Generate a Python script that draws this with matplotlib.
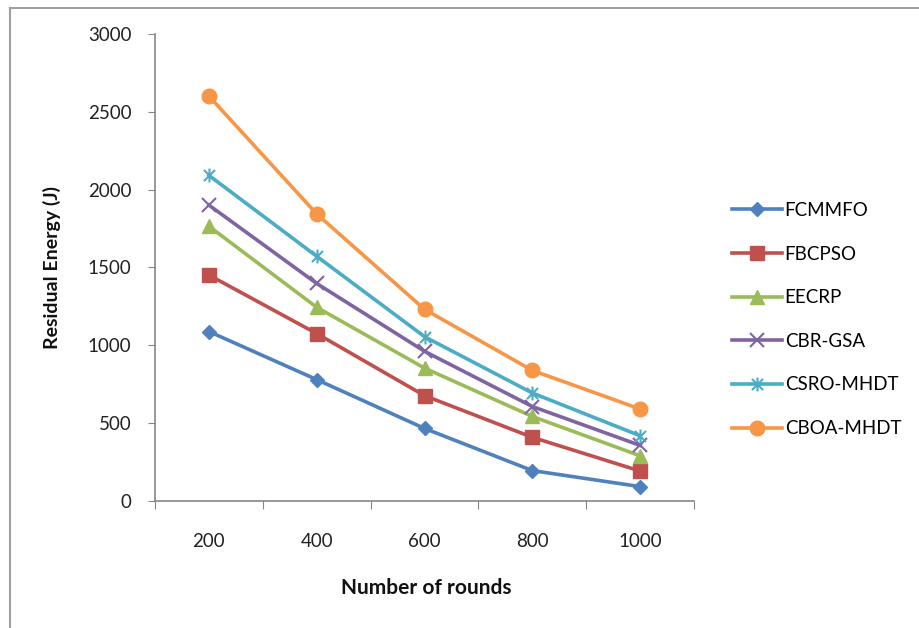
import matplotlib
matplotlib.use("Agg")
import matplotlib.pyplot as plt
from matplotlib.path import Path
from matplotlib.lines import Line2D

rounds = ["200", "400", "600", "800", "1000"]
fcmmfo = [1087, 778, 464, 193, 90]
fbcpso = [1450, 1074, 675, 407, 190]
eecrp = [1764, 1243, 852, 541, 288]
cbr_gsa = [1900, 1396, 960, 605, 355]
csro_mhdt = [2091, 1571, 1054, 692, 417]
cboa_mhdt = [2601, 1843, 1230, 837, 589]
series_names = ["FCMMFO", "FBCPSO", "EECRP", "CBR-GSA", "CSRO-MHDT", "CBOA-MHDT"]
y_ticks = [0, 500, 1000, 1500, 2000, 2500, 3000]

plt.rcParams['font.family'] = ['Lato', 'DejaVu Sans']

star = Path([(-1, -1), (1, 1), (-1, 1), (1, -1), (0, -1.25), (0, 1.25)],
            [Path.MOVETO, Path.LINETO, Path.MOVETO, Path.LINETO, Path.MOVETO, Path.LINETO])

styles = [
    dict(color="#4F81BD", marker="D", ms=7.5),
    dict(color="#C0504D", marker="s", ms=9.5),
    dict(color="#9BBB59", marker="^", ms=9.5),
    dict(color="#8064A2", marker="x", ms=9.5, mew=1.5),
    dict(color="#4BACC6", marker=star, ms=10, mew=1.5),
    dict(color="#F79646", marker="o", ms=10.5),
]

fig = plt.figure(figsize=(9.19, 6.28), dpi=100)
# chart-area border (left and top visible; right/bottom run off the image)
fig.add_artist(Line2D([10 / 919, 10 / 919], [0, 1 - 8 / 628], transform=fig.transFigure,
                      color="#A0A0A0", linewidth=1.5))
fig.add_artist(Line2D([10 / 919, 1], [1 - 8 / 628, 1 - 8 / 628], transform=fig.transFigure,
                      color="#A0A0A0", linewidth=1.5))

ax = fig.add_axes([155 / 919, 1 - 500.6 / 628, (694 - 155) / 919, (500.6 - 34) / 628])

xs = list(range(len(rounds)))
data = [fcmmfo, fbcpso, eecrp, cbr_gsa, csro_mhdt, cboa_mhdt]
for name, vals, st in zip(series_names, data, styles):
    ax.plot(xs, vals, label=name, color=st["color"], marker=st["marker"],
            markersize=st["ms"], markeredgewidth=st.get("mew", 1.0),
            markerfacecolor=st["color"], markeredgecolor=st["color"], linewidth=2.6)

ax.set_xlim(-0.5, 4.5)
ax.set_ylim(0, 3000)
ax.set_yticks(y_ticks)
ax.set_yticklabels([str(v) for v in y_ticks], fontsize=13.5, color="#222222")
ax.set_xticks([i - 0.5 for i in range(len(rounds) + 1)])
ax.set_xticklabels([])
ax.set_xticks(xs, minor=True)
ax.set_xticklabels(rounds, minor=True, fontsize=13.5, color="#222222")
ax.tick_params(axis='x', which='minor', length=0, pad=23)
ax.tick_params(axis='x', which='major', length=6, color="#868686", direction='out')
ax.tick_params(axis='y', length=5, color="#868686", direction='out', pad=12)
for s in ["top", "right"]:
    ax.spines[s].set_visible(False)
for s in ["left", "bottom"]:
    ax.spines[s].set_color("#868686")
    ax.spines[s].set_linewidth(1.2)

fig.text(426 / 919, 1 - 588 / 628, "Number of rounds", ha="center", va="center",
         fontsize=15, fontweight="bold", color="#111111")
fig.text(52 / 919, 1 - 267 / 628, "Residual Energy (J)", ha="center", va="center",
         rotation=90, fontsize=14, fontweight="bold", color="#111111")

ax.legend(loc="upper left", bbox_to_anchor=(732 / 919, 1 - 202 / 628),
          bbox_transform=fig.transFigure, frameon=False, fontsize=13.5,
          handlelength=2.65, handletextpad=0.16, labelspacing=1.42, borderaxespad=0,
          borderpad=0)

fig.savefig("out.png", dpi=100)
